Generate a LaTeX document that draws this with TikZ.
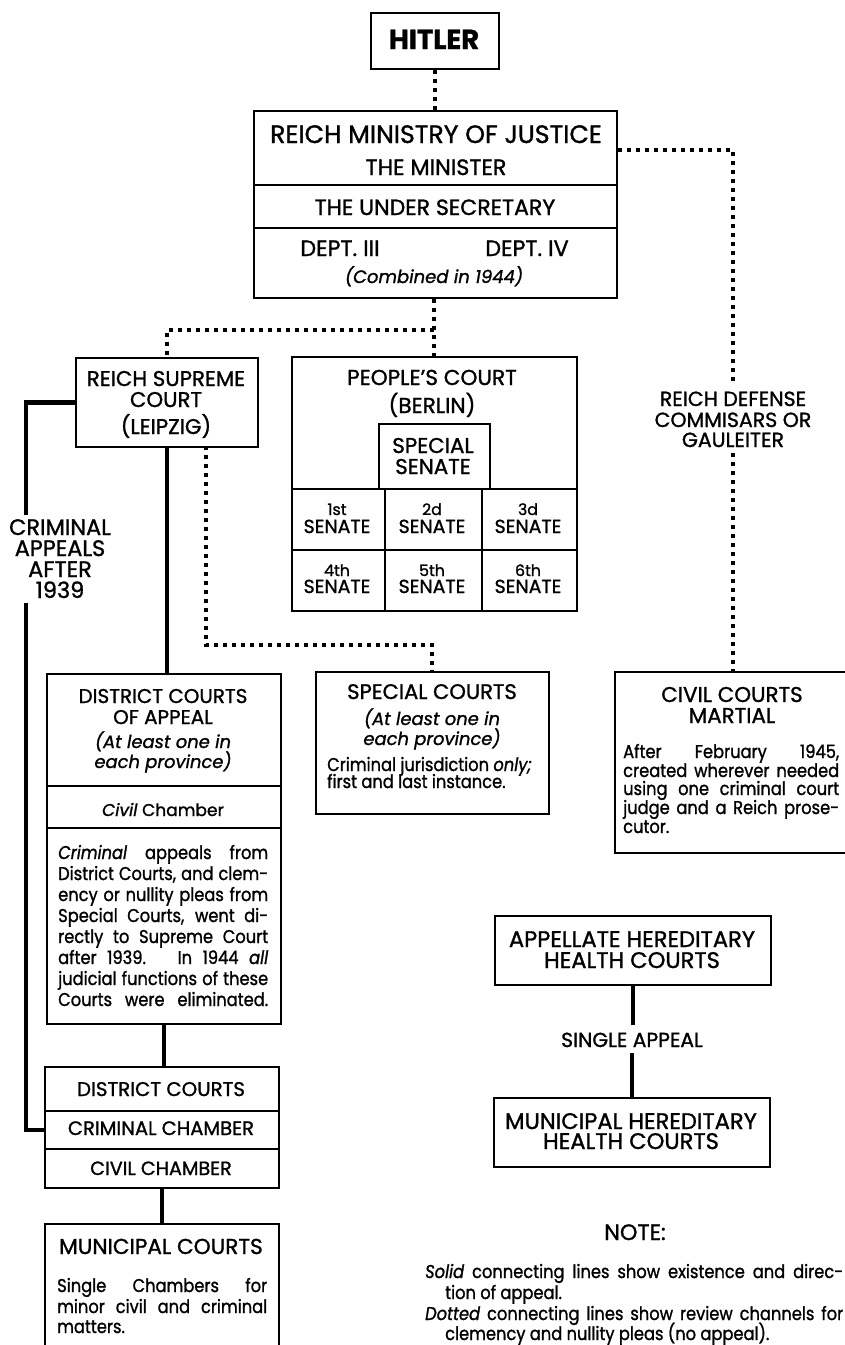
\documentclass[tikz,border=0pt]{standalone}
\usepackage{fontspec}
\setmainfont{Poppins}[FakeBold=1.2]
\newfontfamily\pf{Poppins}[FakeStretch=0.88, FakeBold=1.2]
\newcommand\fs[1]{\fontsize{#1}{#1}\selectfont}
\newcommand\fE{\pf\fontsize{18.5}{21}\selectfont}
\tikzset{
  box/.style={draw, line width=1.8pt, inner sep=0pt, anchor=north west},
  tx/.style={inner sep=0pt, anchor=base},
  txl/.style={inner sep=0pt, anchor=base west},
  solidc/.style={line width=4.5pt},
  dotc/.style={line width=4pt, dash pattern=on 4pt off 5pt},
  rule/.style={line width=1.8pt},
}
\newcommand\bx[5]{\node[box, minimum width=#4pt, minimum height=#5pt] (#1) at (#2,#3) {};}
\newcommand\jl[5]{\node[txl, font=\fE] (#1) at (#2,#3) {\makebox[#4pt][s]{#5}};}
\begin{document}
\begin{tikzpicture}[x=1pt,y=-1pt]
\fill[white] (0,0) rectangle (845,1345);
\useasboundingbox (0,0) rectangle (845,1345);

% HITLER
\bx{hitler}{370}{12}{128}{56}
\node[tx, font=\fs{27.5}\bfseries] (th) at (434,49) {HITLER};

% Ministry
\bx{ministry}{253}{110}{363}{187}
\draw[rule] (253,185) -- (616,185);
\draw[rule] (253,228) -- (616,228);
\node[tx, font=\fs{25.2}] (tm1) at (436,143) {REICH MINISTRY OF JUSTICE};
\node[tx, font=\fs{22.3}] (tm2) at (436,175) {THE MINISTER};
\node[tx, font=\fs{22.1}] (tm3) at (435,215) {THE UNDER SECRETARY};
\node[tx, font=\fs{22.3}] (tm4) at (340,256) {DEPT. III};
\node[tx, font=\fs{22.3}] (tm5) at (527,256) {DEPT. IV};
\node[tx, font=\fs{18}\itshape] (tm6) at (434,283) {(Combined in 1944)};

\draw[dotc] (hitler.south) -- (hitler.south |- ministry.north);

% Reich defense commissars
\node[tx, font=\fs{20.5}] (rdc1) at (733,406) {REICH DEFENSE};
\node[tx, font=\fs{20.5}] (rdc2) at (733,427) {COMMISARS OR};
\node[tx, font=\fs{20.5}] (rdc3) at (733,447) {GAULEITER};
\draw[dotc, shorten >=7pt] (ministry.east |- 0,150) -| (rdc1.north);

% Civil courts martial
\bx{ccm}{614}{671}{240}{181}
\draw[dotc, shorten <=6pt] (rdc3.south) -- (rdc3.south |- ccm.north);
\node[tx, font=\fs{21.4}] (cc1) at (732,702) {CIVIL COURTS};
\node[tx, font=\fs{21.4}] (cc2) at (732,723) {MARTIAL};
\jl{cc3}{623}{758}{216}{After February 1945,}
\jl{cc4}{623}{777}{216}{created wherever needed}
\jl{cc5}{623}{795}{216}{using one criminal court}
\jl{cc6}{623}{814}{216}{judge and a Reich prose-}
\node[txl, font=\fE] (cc7) at (623,833) {cutor.};

% People's court
\bx{people}{291}{356}{285}{254}
\draw[dotc] (people.north |- ministry.south) -- (people.north);
\node[tx, font=\fs{21.6}] (pc1) at (432,385) {PEOPLE'S COURT};
\node[tx, font=\fs{21.6}] (pc2) at (432,413) {(BERLIN)};
\bx{spsen}{378}{423}{111}{65}
\node[tx, font=\fs{21.4}] (ss1) at (433,453) {SPECIAL};
\node[tx, font=\fs{21.4}] (ss2) at (433,474) {SENATE};
\bx{s1}{291}{488}{93}{61}
\bx{s2}{384}{488}{97}{61}
\bx{s3}{481}{488}{95}{61}
\bx{s4}{291}{549}{93}{61}
\bx{s5}{384}{549}{97}{61}
\bx{s6}{481}{549}{95}{61}
\node[tx, font=\fs{15.8}] (o1) at (337,515) {1st};
\node[tx, font=\fs{18.9}] (n1s) at (337,533) {SENATE};
\node[tx, font=\fs{15.8}] (o2) at (432,515) {2d};
\node[tx, font=\fs{18.9}] (n2s) at (432,533) {SENATE};
\node[tx, font=\fs{15.8}] (o3) at (528,515) {3d};
\node[tx, font=\fs{18.9}] (n3s) at (528,533) {SENATE};
\node[tx, font=\fs{15.8}] (o4) at (337,576) {4th};
\node[tx, font=\fs{18.9}] (n4s) at (337,593) {SENATE};
\node[tx, font=\fs{15.8}] (o5) at (432,576) {5th};
\node[tx, font=\fs{18.9}] (n5s) at (432,593) {SENATE};
\node[tx, font=\fs{15.8}] (o6) at (528,576) {6th};
\node[tx, font=\fs{18.9}] (n6s) at (528,593) {SENATE};

% Supreme court
\bx{supreme}{75}{357}{182}{89}
\draw[dotc] (people.north |- 0,330) -| (supreme.north);
\node[tx, font=\fs{21.3}] (sc1) at (166,386) {REICH SUPREME};
\node[tx, font=\fs{21.3}] (sc2) at (166,407) {COURT};
\node[tx, font=\fs{21.3}] (sc3) at (166,434) {(LEIPZIG)};

% Criminal appeals label and line
\node[tx, font=\fs{22.4}] (ca1) at (60,535) {CRIMINAL};
\node[tx, font=\fs{22.4}] (ca2) at (60,556) {APPEALS};
\node[tx, font=\fs{22.4}] (ca3) at (60,577) {AFTER};
\node[tx, font=\fs{22.4}] (ca4) at (60,598) {1939};
\coordinate (cl1) at (26,515);
\coordinate (cl2) at (26,603);
\draw[solidc] (supreme.west) -| (cl1);

% District courts of appeal
\bx{dca}{46}{673}{234}{350}
\draw[rule] (46,786) -- (280,786);
\draw[rule] (46,828) -- (280,828);
\draw[solidc] (supreme.south) -- (supreme.south |- dca.north);
\node[tx, font=\fs{19.9}] (da1) at (163,703) {DISTRICT COURTS};
\node[tx, font=\fs{19.9}] (da2) at (163,724) {OF APPEAL};
\node[tx, font=\fs{17.9}\itshape] (da3) at (163,748) {(At least one in};
\node[tx, font=\fs{17.9}\itshape] (da4) at (163,768) {each province)};
\node[tx, font=\fs{17.1}] (da5) at (163,816) {\textit{Civil} Chamber};
\jl{dp1}{58}{859}{210}{\textit{Criminal} appeals from}
\jl{dp2}{58}{880}{210}{District Courts, and clem-}
\jl{dp3}{58}{901}{210}{ency or nullity pleas from}
\jl{dp4}{58}{922}{210}{Special Courts, went di-}
\jl{dp5}{58}{943}{210}{rectly to Supreme Court}
\jl{dp6}{58}{964}{210}{after 1939.\ \ \ In 1944 \textit{all}}
\jl{dp7}{58}{985}{210}{judicial functions of these}
\jl{dp8}{58}{1006}{210}{Courts were eliminated.}

% Special courts
\bx{special}{315}{671}{233}{142}
\draw[dotc] (206,446) -- (206,645) -| (special.north);
\node[tx, font=\fs{21.1}] (sp1) at (432,699) {SPECIAL COURTS};
\node[tx, font=\fs{17.9}\itshape] (sp2) at (432,725) {(At least one in};
\node[tx, font=\fs{17.9}\itshape] (sp3) at (432,745) {each province)};
\node[txl, font=\fE] (sp4) at (327,771) {Criminal jurisdiction \textit{only;}};
\node[txl, font=\fE] (sp5) at (327,788) {first and last instance.};

% District courts
\bx{dc1}{44}{1066}{234}{44}
\bx{dc2}{44}{1110}{234}{38}
\bx{dc3}{44}{1148}{234}{39}
\draw[solidc] (dca.south) -- (dca.south |- dc1.north);
\draw[solidc] (cl2) |- (dc2.west);
\node[tx, font=\fs{19.8}] (d1) at (161,1096) {DISTRICT COURTS};
\node[tx, font=\fs{19.5}] (d2) at (161,1135) {CRIMINAL CHAMBER};
\node[tx, font=\fs{19.2}] (d3) at (161,1175) {CIVIL CHAMBER};

% Municipal courts
\bx{mun}{44}{1223}{234}{140}
\draw[solidc] (dc3.south) -- (mun.north);
\node[tx, font=\fs{21.6}] (m1) at (161,1254) {MUNICIPAL COURTS};
\jl{mp1}{57}{1292}{210}{Single Chambers for}
\jl{mp2}{57}{1313}{210}{minor civil and criminal}
\node[txl, font=\fE] (mp3) at (57,1333) {matters.};

% Hereditary health courts
\bx{app}{494}{915}{276}{69}
\node[tx, font=\fs{22.6}] (a1) at (632,947) {APPELLATE HEREDITARY};
\node[tx, font=\fs{22.6}] (a2) at (632,968) {HEALTH COURTS};
\node[tx, font=\fs{20.3}] (sa) at (632,1047) {SINGLE APPEAL};
\bx{mhc}{493}{1097}{276}{69}
\node[tx, font=\fs{22.6}] (h1) at (631,1129) {MUNICIPAL HEREDITARY};
\node[tx, font=\fs{22.6}] (h2) at (631,1149) {HEALTH COURTS};
\draw[solidc, shorten >=7pt] (app.south) -- (app.south |- sa.north);
\draw[solidc, shorten <=6pt] (sa.south) -- (sa.south |- mhc.north);

% Note
\node[tx, font=\fs{22.3}] (note) at (635,1240) {NOTE:};
\node[txl, font=\fE] (nt1) at (425,1278) {\makebox[418pt][s]{\textit{Solid} connecting lines show existence and direc-}};
\node[txl, font=\fE] (nt2) at (445,1299) {tion of appeal.};
\node[txl, font=\fE] (nt3) at (425,1320) {\makebox[418pt][s]{\textit{Dotted} connecting lines show review channels for}};
\node[txl, font=\fE] (nt4) at (445,1340) {clemency and nullity pleas (no appeal).};
\end{tikzpicture}
\end{document}
